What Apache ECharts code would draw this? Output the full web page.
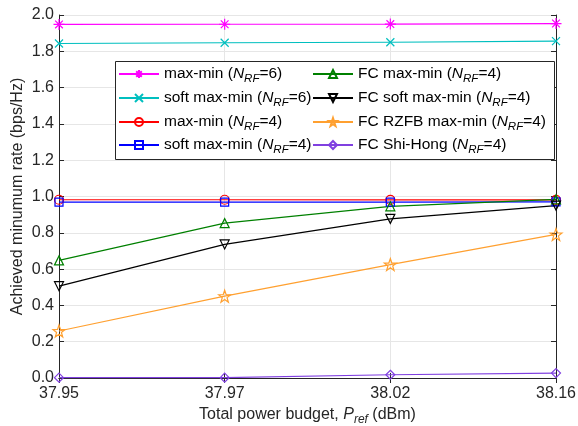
<!DOCTYPE html>
<html><head><meta charset="utf-8">
<script src="https://cdn.jsdelivr.net/npm/echarts@6/dist/echarts.min.js"></script>
<style>html,body{margin:0;padding:0;background:#fff}#c{width:578px;height:426px}</style>
</head><body><div id="c"></div>
<script>
const categories = ['37.95', '37.97', '38.02', '38.16'];
const maxMin6 = [1.948, 1.949, 1.950, 1.953];
const softMaxMin6 = [1.843, 1.847, 1.850, 1.856];
const maxMin4 = [0.982, 0.982, 0.981, 0.981];
const softMaxMin4 = [0.969, 0.969, 0.969, 0.970];
const fcMaxMin4 = [0.648, 0.853, 0.946, 0.984];
const fcSoftMaxMin4 = [0.506, 0.736, 0.877, 0.950];
const fcRzfb4 = [0.259, 0.451, 0.625, 0.791];
const fcShiHong4 = [0.002, 0.002, 0.018, 0.027];
const yTicks = ['0.0','0.2','0.4','0.6','0.8','1.0','1.2','1.4','1.6','1.8','2.0'];

const star = 'path://M0,-10 L0,10 M-10,0 L10,0 M-7,-7 L7,7 M-7,7 L7,-7';
const cross = 'path://M-7,-7 L7,7 M-7,7 L7,-7';
const pent = 'path://M0,-10 L2.35,-3.24 L9.51,-3.09 L3.80,1.24 L5.88,8.09 L0,4 L-5.88,8.09 L-3.80,1.24 L-9.51,-3.09 L-2.35,-3.24 Z';
const triDown = 'path://M-9,-6 L9,-6 L0,9 Z';
const triUp = 'path://M-9,6 L9,6 L0,-9 Z';
const diamond = 'path://M0,-10 L6,0 L0,10 L-6,0 Z';
const circle = 'path://M10,0 A10,10 0 1,1 -10,0 A10,10 0 1,1 10,0 Z';
const square = 'path://M-10,-10 L10,-10 L10,10 L-10,10 Z';

function mk(name, data, color, symbol, size) {
  return {
    name, type: 'line', data, symbol, symbolSize: size,
    showSymbol: true,
    lineStyle: { color, width: 1.2 },
    itemStyle: { color: 'transparent', borderColor: color, borderWidth: 1.2 },
    emphasis: { disabled: true },
    animation: false
  };
}
const names = {
  a: 'max-min ({i|N}{s|RF}=6)',
  b: 'soft max-min ({i|N}{s|RF}=6)',
  c: 'max-min ({i|N}{s|RF}=4)',
  d: 'soft max-min ({i|N}{s|RF}=4)',
  e: 'FC max-min ({i|N}{s|RF}=4)',
  f: 'FC soft max-min ({i|N}{s|RF}=4)',
  g: 'FC RZFB max-min ({i|N}{s|RF}=4)',
  h: 'FC Shi-Hong ({i|N}{s|RF}=4)'
};
const series = [
  mk('a', maxMin6, '#ff00ff', star, 11),
  mk('b', softMaxMin6, '#00bfbf', cross, 8),
  mk('c', maxMin4, '#ff0000', circle, 9),
  mk('d', softMaxMin4, '#0000ff', square, 8),
  mk('e', fcMaxMin4, '#008000', triUp, 9),
  mk('f', fcSoftMaxMin4, '#000000', triDown, 9),
  mk('g', fcRzfb4, '#ffa030', pent, 12),
  mk('h', fcShiHong4, '#8040e0', diamond, 9)
];
const FF = 'Liberation Sans';
const rich = {
  i: { fontStyle: 'italic', fontSize: 15.5, fontFamily: FF, color: '#000' },
  s: { fontStyle: 'italic', fontSize: 11.5, fontFamily: FF, color: '#000', padding: [10, 0, 0, 0] }
};
function lg(name, left, top) {
  return {
    orient: 'vertical', left, top, itemWidth: 40, itemHeight: 10, itemGap: 0, padding: 0,
    data: [name], formatter: n => names[n],
    textStyle: { fontSize: 15.5, fontFamily: FF, color: '#000', rich },
    selectedMode: false, z: 10
  };
}
const rowsY = [66, 90, 114, 137];
const legends = [];
['a','b','c','d'].forEach((n, i) => legends.push(lg(n, 118, rowsY[i])));
['e','f','g','h'].forEach((n, i) => legends.push(lg(n, 312, rowsY[i])));

const axisGray = '#262626';
const chart = echarts.init(document.getElementById('c'), null, { renderer: 'canvas' });
chart.setOption({
  backgroundColor: '#fff',
  animation: false,
  grid: { left: 59, right: 22, top: 15, bottom: 48, containLabel: false, outerBoundsMode: 'none' },
  graphic: [{ type: 'rect', shape: { x: 115.5, y: 61.5, width: 439, height: 98 }, style: { fill: '#fff', stroke: axisGray, lineWidth: 1 }, z: 5 }],
  legend: legends,
  xAxis: [{
    type: 'category', data: categories, boundaryGap: false,
    name: 'Total power budget, {i|P}{s|ref} (dBm)', nameLocation: 'middle', nameGap: 26, nameMoveOverlap: false,
    nameTextStyle: { fontSize: 16, fontFamily: FF, color: axisGray,
      rich: { i: { fontStyle: 'italic', fontSize: 16, fontFamily: FF, color: axisGray },
              s: { fontStyle: 'italic', fontSize: 12, fontFamily: FF, color: axisGray, padding: [10,0,0,0] } } },
    axisLine: { lineStyle: { color: axisGray, width: 1 } },
    axisTick: { inside: true, length: 5, lineStyle: { color: axisGray } },
    axisLabel: { fontSize: 16, fontFamily: FF, color: axisGray, margin: 8 },
    splitLine: { show: true, lineStyle: { color: '#e6e6e6', width: 1 } }
  }, {
    type: 'category', data: categories, boundaryGap: false, position: 'top',
    axisLine: { lineStyle: { color: axisGray } }, axisTick: { inside: true, length: 5, lineStyle: { color: axisGray } },
    axisLabel: { show: false }, splitLine: { show: false }
  }],
  yAxis: [{
    type: 'value', min: 0, max: 2, interval: 0.2,
    name: 'Achieved minumum rate (bps/Hz)', nameLocation: 'middle', nameGap: 33, nameMoveOverlap: false,
    nameTextStyle: { fontSize: 16, fontFamily: FF, color: axisGray },
    axisLine: { show: true, lineStyle: { color: axisGray, width: 1 } },
    axisTick: { show: true, inside: true, length: 5, lineStyle: { color: axisGray } },
    axisLabel: { fontSize: 16, fontFamily: FF, color: axisGray, margin: 5,
      formatter: v => yTicks[Math.round(v / 0.2)] },
    splitLine: { show: true, lineStyle: { color: '#e6e6e6', width: 1 } }
  }, {
    type: 'value', min: 0, max: 2, interval: 0.2, position: 'right',
    axisLine: { show: true, lineStyle: { color: axisGray } },
    axisTick: { show: true, inside: true, length: 5, lineStyle: { color: axisGray } },
    axisLabel: { show: false }, splitLine: { show: false }
  }],
  series
});
</script></body></html>
